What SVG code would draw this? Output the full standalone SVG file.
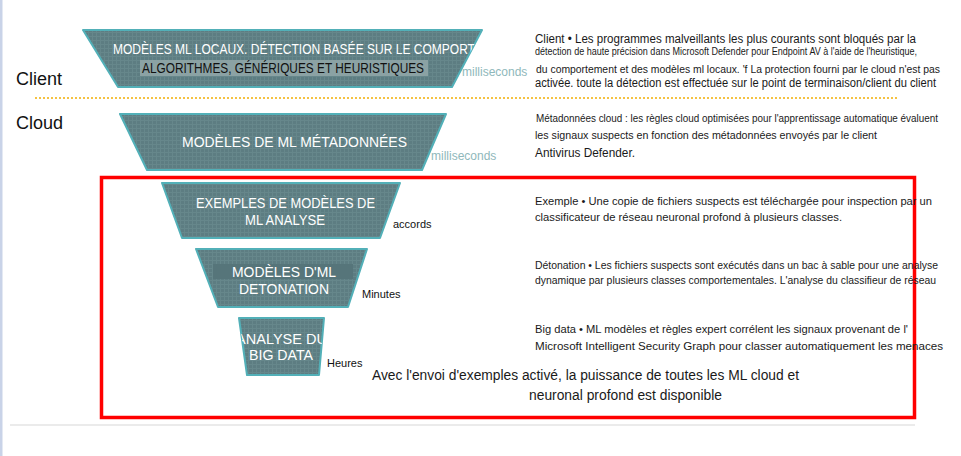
<svg xmlns="http://www.w3.org/2000/svg" width="961" height="456" viewBox="0 0 961 456">
<style>
.trap{fill:#5d7d82;stroke:#52b0b8;stroke-width:2;stroke-linejoin:round}
.tw{font-family:"Liberation Sans",Arial,sans-serif;fill:#ffffff}
.tb{font-family:"Liberation Sans",Arial,sans-serif;fill:#111111}
.ms{font-family:"Liberation Sans",Arial,sans-serif;fill:#8fb8bb;font-size:12px}
.desc{font-family:"Liberation Sans",Arial,sans-serif;fill:#1a1a1a}
</style>
<defs>
<pattern id="grid" width="4" height="4" patternUnits="userSpaceOnUse">
<rect width="4" height="4" fill="#5d7d82"/>
<path d="M0 0.5H4M0.5 0V4" stroke="#66878b" stroke-width="1"/>
</pattern>
<clipPath id="c1"><polygon points="83,30 482,30 452,87 118,87"/></clipPath>
<clipPath id="c5"><polygon points="239,318 324,318 319,375 247,375"/></clipPath>
</defs>
<rect width="961" height="456" fill="#ffffff"/>
<rect x="0" y="0" width="2.5" height="456" fill="#c9d3e8"/>
<line x1="10" y1="425" x2="915" y2="425" stroke="#ebebeb" stroke-width="2"/>

<g id="dividers">
<line x1="35" y1="98" x2="897" y2="98" stroke="#f5c242" stroke-width="2" stroke-dasharray="2,2"/>
<rect x="101.5" y="177.5" width="813" height="240" fill="none" stroke="#ff0000" stroke-width="3.5"/>
</g>

<text class="tb" x="16" y="85" font-size="18">Client</text>
<text class="tb" x="16" y="129" font-size="18">Cloud</text>

<g id="node-local">
<polygon class="trap" points="83,30 482,30 452,87 118,87" style="fill:url(#grid)"/>
<g clip-path="url(#c1)">
<text class="tw" x="113" y="54" font-size="14" textLength="404" lengthAdjust="spacingAndGlyphs">MODÈLES ML LOCAUX. DÉTECTION BASÉE SUR LE COMPORTEMENT</text>
</g>
<rect x="140" y="60" width="288" height="16" fill="#8ba2a4"/>
<text class="tb" x="142" y="73" font-size="14" textLength="282" lengthAdjust="spacingAndGlyphs">ALGORITHMES, GÉNÉRIQUES ET HEURISTIQUES</text>
<text class="ms" x="462" y="76">milliseconds</text>
</g>

<g id="node-metadata">
<polygon class="trap" points="120,114 446,114 422,170 147,170" style="fill:url(#grid)"/>
<text class="tw" x="182" y="147" font-size="15" textLength="225" lengthAdjust="spacingAndGlyphs">MODÈLES DE ML MÉTADONNÉES</text>
<text class="ms" x="431" y="160">milliseconds</text>
</g>

<g id="node-sample">
<polygon class="trap" points="162,183 400,183 380,238 182,238" style="fill:url(#grid)"/>
<text class="tw" x="196" y="208" font-size="14.5" textLength="179" lengthAdjust="spacingAndGlyphs">EXEMPLES DE MODÈLES DE</text>
<text class="tw" x="245" y="225" font-size="14.5" textLength="80" lengthAdjust="spacingAndGlyphs">ML ANALYSE</text>
<text class="tb" x="393" y="228" font-size="11">accords</text>
</g>

<g id="node-detonation">
<polygon class="trap" points="196,249 367,249 348,307 218,307" style="fill:url(#grid)"/>
<rect x="213" y="264" width="140" height="15" fill="#56757a"/>
<text class="tw" x="232" y="277" font-size="14.5" textLength="104" lengthAdjust="spacingAndGlyphs">MODÈLES D'ML</text>
<text class="tw" x="239" y="294" font-size="14.5" textLength="90" lengthAdjust="spacingAndGlyphs">DETONATION</text>
<text class="tb" x="362" y="298" font-size="11">Minutes</text>
</g>

<g id="node-bigdata">
<polygon class="trap" points="239,318 324,318 319,375 247,375" style="fill:url(#grid)"/>
<g clip-path="url(#c5)">
<text class="tw" x="236" y="344" font-size="14" textLength="91" lengthAdjust="spacingAndGlyphs">ANALYSE DU</text>
</g>
<text class="tw" x="249" y="360" font-size="14" textLength="64" lengthAdjust="spacingAndGlyphs">BIG DATA</text>
<text class="tb" x="327" y="367" font-size="11">Heures</text>
</g>

<g id="descriptions">
<text class="desc" x="535" y="43" font-size="12" textLength="381" lengthAdjust="spacingAndGlyphs">Client • Les programmes malveillants les plus courants sont bloqués par la</text>
<text class="desc" x="535" y="55" font-size="10" textLength="382" lengthAdjust="spacingAndGlyphs">détection de haute précision dans Microsoft Defender pour Endpoint AV à l'aide de l'heuristique,</text>
<text class="desc" x="536" y="73" font-size="11" textLength="404" lengthAdjust="spacingAndGlyphs">du comportement et des modèles ml locaux. 'f La protection fourni par le cloud n'est pas</text>
<text class="desc" x="535" y="87" font-size="12" textLength="401" lengthAdjust="spacingAndGlyphs">activée. toute la détection est effectuée sur le point de terminaison/client du client</text>
<text class="desc" x="536" y="122" font-size="10.5" textLength="402" lengthAdjust="spacingAndGlyphs">Métadonnées cloud : les règles cloud optimisées pour l'apprentissage automatique évaluent</text>
<text class="desc" x="535" y="139" font-size="11.5" textLength="342" lengthAdjust="spacingAndGlyphs">les signaux suspects en fonction des métadonnées envoyés par le client</text>
<text class="desc" x="535" y="157" font-size="12" textLength="100" lengthAdjust="spacingAndGlyphs">Antivirus Defender.</text>
<text class="desc" x="535" y="205" font-size="11.5" textLength="397" lengthAdjust="spacingAndGlyphs">Exemple • Une copie de fichiers suspects est téléchargée pour inspection par un</text>
<text class="desc" x="535" y="221" font-size="11.5" textLength="307" lengthAdjust="spacingAndGlyphs">classificateur de réseau neuronal profond à plusieurs classes.</text>
<text class="desc" x="535" y="269" font-size="10.5" textLength="403" lengthAdjust="spacingAndGlyphs">Détonation • Les fichiers suspects sont exécutés dans un bac à sable pour une analyse</text>
<text class="desc" x="535" y="284" font-size="10.5" textLength="401" lengthAdjust="spacingAndGlyphs">dynamique par plusieurs classes comportementales. L'analyse du classifieur de réseau</text>
<text class="desc" x="535" y="333" font-size="10.5" textLength="373" lengthAdjust="spacingAndGlyphs">Big data • ML modèles et règles expert corrélent les signaux provenant de l'</text>
<text class="desc" x="535" y="350" font-size="11" textLength="408" lengthAdjust="spacingAndGlyphs">Microsoft Intelligent Security Graph pour classer automatiquement les menaces</text>
<text class="desc" x="372" y="380" font-size="14" textLength="427" lengthAdjust="spacingAndGlyphs">Avec l'envoi d'exemples activé, la puissance de toutes les ML cloud et</text>
<text class="desc" x="529" y="400" font-size="14" textLength="193" lengthAdjust="spacingAndGlyphs">neuronal profond est disponible</text>
</g>
</svg>
